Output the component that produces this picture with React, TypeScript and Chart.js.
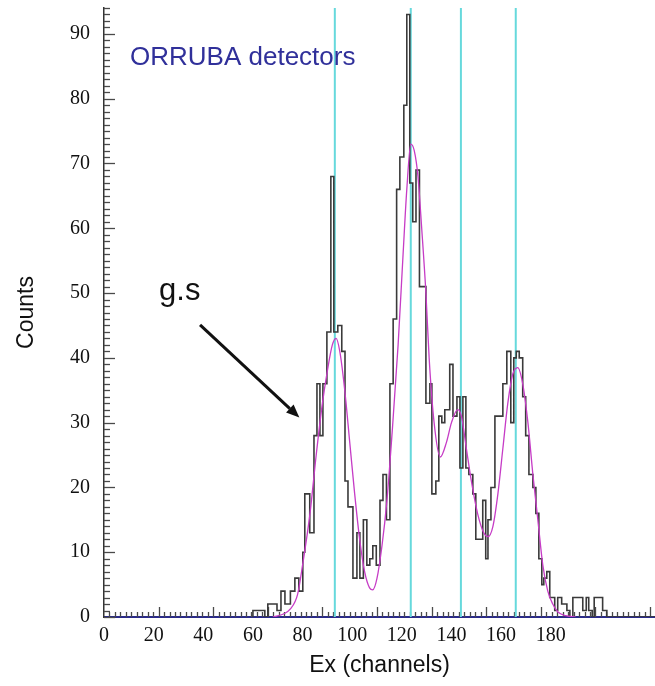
import React, { useEffect, useRef } from 'react';
import { Chart, registerables } from 'chart.js';

Chart.register(...registerables);

// Histogram steps: left edge of each step (channels) and its count
const binEdges = [
  60.0, 64.8, 66.0, 69.7, 71.3, 72.9, 75.1, 76.9, 78.5, 80.1, 80.9, 82.9, 84.6, 85.8, 87.0, 88.2,
  89.8, 91.4, 92.6, 94.2, 95.8, 97.1, 98.3, 100.3, 101.9, 103.1, 104.5, 105.9, 107.1, 108.3, 109.7,
  111.2, 112.4, 113.8, 115.2, 116.5, 117.9, 119.2, 120.8, 122.0, 123.2, 124.4, 125.7, 127.1, 129.7,
  131.3, 132.1, 133.7, 134.9, 136.1, 137.3, 139.3, 140.6, 142.2, 143.4, 144.6, 145.8, 147.0, 148.6,
  149.8, 152.6, 153.8, 154.7, 155.9, 157.5, 160.7, 162.3, 163.9, 165.1, 166.1, 167.3, 168.7, 169.9,
  171.2, 172.8, 174.0, 175.2, 176.4, 177.2, 178.4, 179.6, 181.6, 182.8, 184.4, 186.5, 187.7, 188.9,
  192.9, 194.3, 195.3, 196.7, 197.5, 200.9, 202.6, 210.6, 222.0,
];
const binCounts = [
  0, 1, 0, 2, 1, 4, 2, 4, 6, 4, 10, 19, 13, 28, 36, 28,
  36, 44, 68, 44, 45, 41, 21, 17, 6, 13, 6, 15, 8, 9, 11,
  8, 18, 22, 15, 36, 46, 66, 71, 79, 93, 67, 61, 69, 51,
  33, 36, 19, 21, 31, 30, 32, 39, 31, 34, 23, 34, 23, 22,
  19, 12, 18, 9, 15, 20, 31, 36, 41, 30, 40, 41, 40, 34,
  28, 22, 20, 16, 9, 5, 6, 7, 3, 1, 3, 2, 1, 0,
  3, 1, 3, 1, 0, 3, 1, 0, 0,
];

// Fit curve
const fitChannels = [
  68, 72.5, 75, 78, 80, 83, 85.5, 88, 90, 92, 93.5, 95, 97, 99, 101, 103, 105, 107, 108.3, 110,
  112, 114, 116, 118.5, 120.5, 122, 123.6, 125, 126.5, 128, 129.7, 131, 133, 135.5, 138, 140,
  142.5, 144, 146, 148, 150.5, 153, 154.7, 156.7, 158.7, 160.7, 162.7, 164.7, 166.7, 168.7,
  170.8, 172.8, 174.8, 176.8, 178.8, 180.8, 182.8, 186, 190,
];
const fitCounts = [
  0, 0.5, 1.2, 3.5, 8, 16, 25, 33, 38, 42, 43, 41, 35, 27, 19, 12, 7, 4.5, 4.2, 6,
  11, 18, 28, 42, 56, 66, 73, 72, 68, 60, 50, 40, 30, 24.7, 27, 30,
  32, 31, 26, 21, 16, 13, 12.4, 14, 19, 26, 33, 37.5, 38.5, 36,
  30, 22, 15, 8, 4, 2, 0.8, 0.2, 0,
];

// Vertical peak markers (channels)
const peakChannels = [93.0, 123.6, 143.8, 165.9];

// Axis ticks
const xTickValues = [0, 20, 40, 60, 80, 100, 120, 140, 160, 180];
const yTickValues = [0, 10, 20, 30, 40, 50, 60, 70, 80, 90];
const X_MIN = 0;
const X_MAX = 222;
const Y_MIN = 0;
const Y_MAX = 94;

// Annotations (data coordinates)
const labelTitle = { text: 'ORRUBA detectors', x: 10.5, y: 86.3 };
const labelGs = { text: 'g.s', x: 22.2, y: 48.9 };
const arrowFrom = { x: 38.7, y: 45.1 };
const arrowTo = { x: 78.7, y: 30.8 };

const SANS = '"Liberation Sans", Arial, Helvetica, sans-serif';
const SERIF = '"Liberation Serif", "Times New Roman", serif';

const decorPlugin = {
  id: 'decor',
  beforeDatasetsDraw(chart: any) {
    const { ctx, chartArea } = chart;
    const xs = chart.scales.x;
    const ys = chart.scales.y;
    ctx.save();
    ctx.strokeStyle = '#4a4a4a';
    ctx.lineWidth = 1.3;
    for (let v = 0; v <= Y_MAX; v += 1) {
      const py = Math.round(ys.getPixelForValue(v)) + 0.5;
      const len = v % 10 === 0 ? 11 : 6;
      ctx.beginPath();
      ctx.moveTo(chartArea.left, py);
      ctx.lineTo(chartArea.left + len, py);
      ctx.stroke();
    }
    for (let i = 1; i * 2.2 <= X_MAX; i++) {
      const px = Math.round(xs.getPixelForValue(i * 2.2)) + 0.5;
      const len = i % 10 === 0 ? 10 : 5;
      ctx.beginPath();
      ctx.moveTo(px, chartArea.bottom);
      ctx.lineTo(px, chartArea.bottom - len);
      ctx.stroke();
    }
    ctx.restore();
  },
  afterDraw(chart: any) {
    const { ctx } = chart;
    const xs = chart.scales.x;
    const ys = chart.scales.y;
    ctx.save();
    ctx.fillStyle = '#30309a';
    ctx.font = `26px ${SANS}`;
    ctx.textBaseline = 'middle';
    ctx.textAlign = 'left';
    ctx.fillText(labelTitle.text, xs.getPixelForValue(labelTitle.x), ys.getPixelForValue(labelTitle.y));

    ctx.fillStyle = '#111';
    ctx.font = `31px ${SANS}`;
    ctx.textBaseline = 'alphabetic';
    ctx.fillText(labelGs.text, xs.getPixelForValue(labelGs.x), ys.getPixelForValue(labelGs.y));

    const x1 = xs.getPixelForValue(arrowFrom.x);
    const y1 = ys.getPixelForValue(arrowFrom.y);
    const x2 = xs.getPixelForValue(arrowTo.x);
    const y2 = ys.getPixelForValue(arrowTo.y);
    const ang = Math.atan2(y2 - y1, x2 - x1);
    const head = 13;
    const hw = 5.5;
    const bx = x2 - head * Math.cos(ang);
    const by = y2 - head * Math.sin(ang);
    ctx.strokeStyle = '#111';
    ctx.lineWidth = 3;
    ctx.beginPath();
    ctx.moveTo(x1, y1);
    ctx.lineTo(bx, by);
    ctx.stroke();
    ctx.beginPath();
    ctx.moveTo(x2, y2);
    ctx.lineTo(bx - hw * Math.sin(ang), by + hw * Math.cos(ang));
    ctx.lineTo(bx + hw * Math.sin(ang), by - hw * Math.cos(ang));
    ctx.closePath();
    ctx.fill();
    ctx.restore();
  },
};

export default function App() {
  const canvasRef = useRef<HTMLCanvasElement | null>(null);

  useEffect(() => {
    const canvas = canvasRef.current;
    if (!canvas) return;

    const histData = binEdges.map((e, i) => ({ x: e, y: binCounts[i] }));
    const fitData = fitChannels.map((c, i) => ({ x: c, y: fitCounts[i] }));
    const peakSets = peakChannels.map((c) => ({
      type: 'line' as const,
      data: [
        { x: c, y: Y_MIN },
        { x: c, y: Y_MAX },
      ],
      borderColor: '#66d9dc',
      borderWidth: 2,
      pointRadius: 0,
      order: 3,
    }));

    const chart = new Chart(canvas, {
      type: 'line',
      data: {
        datasets: [
          {
            data: fitData,
            borderColor: '#c63cc6',
            borderWidth: 1.3,
            pointRadius: 0,
            tension: 0.4,
            cubicInterpolationMode: 'monotone',
            order: 0,
          } as any,
          {
            data: histData,
            borderColor: '#3a3a3a',
            borderWidth: 1.6,
            pointRadius: 0,
            stepped: 'after',
            order: 1,
          } as any,
          ...peakSets,
        ],
      },
      options: {
        responsive: false,
        animation: false,
        layout: { padding: { top: 8, right: 0, bottom: 0, left: 0 } },
        plugins: {
          legend: { display: false },
          tooltip: { enabled: false },
        },
        scales: {
          x: {
            type: 'linear',
            min: X_MIN,
            max: X_MAX,
            afterBuildTicks: (s: any) => {
              s.ticks = xTickValues.map((v) => ({ value: v }));
            },
            afterFit: (s: any) => {
              s.height = 69;
              s.paddingLeft = 0;
              s.paddingRight = 0;
            },
            grid: { display: false, drawTicks: false },
            border: { display: true, color: '#2a2a8a', width: 2 },
            ticks: {
              padding: 7,
              color: '#111',
              maxRotation: 0,
              autoSkip: false,
              font: { family: SERIF, size: 20 },
            },
            title: {
              display: true,
              text: 'Ex (channels)',
              color: '#111',
              font: { family: SANS, size: 23 },
              padding: { top: 0, bottom: 7 },
            },
          },
          y: {
            type: 'linear',
            min: Y_MIN,
            max: Y_MAX,
            afterBuildTicks: (s: any) => {
              s.ticks = yTickValues.map((v) => ({ value: v }));
            },
            afterFit: (s: any) => {
              s.width = 104;
              s.paddingTop = 0;
              s.paddingBottom = 0;
            },
            grid: { display: false, drawTicks: false },
            border: { display: true, color: '#333', width: 1.5 },
            ticks: {
              padding: 14,
              color: '#111',
              autoSkip: false,
              font: { family: SERIF, size: 20 },
            },
            title: {
              display: true,
              text: 'Counts',
              color: '#111',
              font: { family: SANS, size: 23 },
              padding: { top: 13, bottom: 0 },
            },
          },
        },
      },
      plugins: [decorPlugin],
    });

    return () => chart.destroy();
  }, []);

  return (
    <div style={{ position: 'absolute', left: 0, top: 0, width: 655, height: 686, background: '#fff' }}>
      <canvas ref={canvasRef} width={655} height={686} />
    </div>
  );
}
